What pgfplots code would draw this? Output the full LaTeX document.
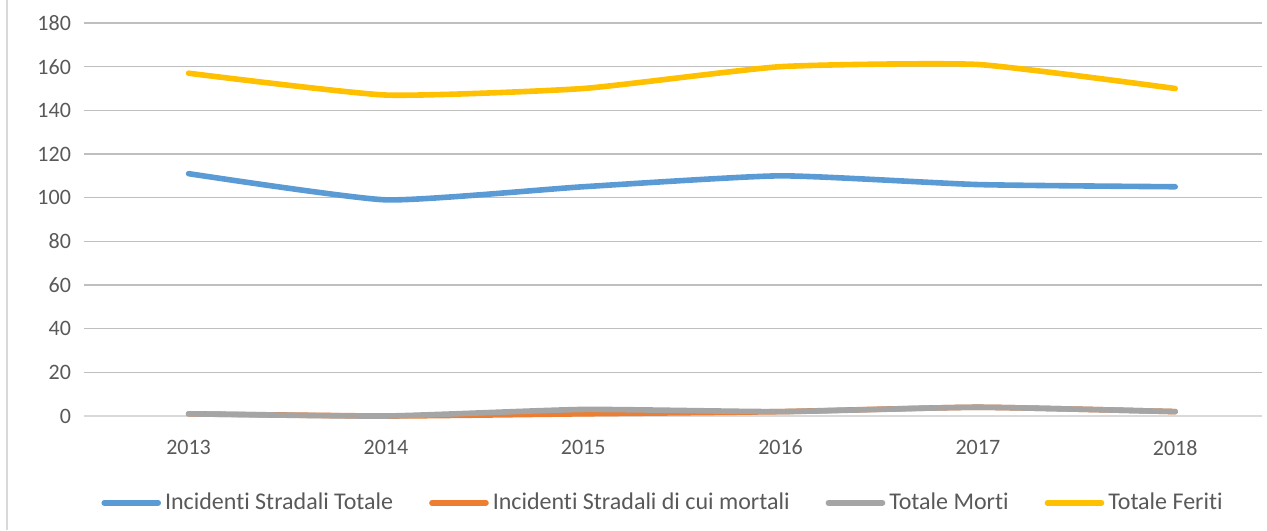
\documentclass[border=0pt]{standalone}
\usepackage{pgfplots}
\pgfplotsset{compat=1.18}
\usepackage{fontspec}
\setmainfont{Carlito}[Ligatures=NoCommon]
\definecolor{cblue}{HTML}{5B9BD5}
\definecolor{corange}{HTML}{ED7D31}
\definecolor{cgray}{HTML}{A5A5A5}
\definecolor{cyellow}{HTML}{FFC000}
\definecolor{grid}{HTML}{D9D9D9}
\definecolor{txt}{HTML}{595959}
\begin{document}
\begin{tikzpicture}
\useasboundingbox (0,0) rectangle (633.5pt,265pt);
\draw[grid, line width=0.75pt] (3.5pt,0) -- (3.5pt,265pt);
\begin{axis}[
  at={(42pt,57pt)}, anchor=south west,
  scale only axis, width=589pt, height=196.5pt,
  xmin=-0.53, xmax=5.44, ymin=0, ymax=180,
  xtick={0,1,2,3,4,5}, xticklabels={2013,2014,2015,2016,2017,2018},
  ytick={0,20,...,180},
  xmajorgrids=false, ymajorgrids=true,
  major grid style={grid, line width=0.75pt},
  axis line style={draw=none},
  tick style={draw=none},
  ticklabel style={font=\fontsize{11}{13}\selectfont, text=txt},
  /pgf/number format/assume math mode=true,
  xticklabel style={yshift=-8.5pt},
  yticklabel style={xshift=-3pt},
  legend columns=4,
  legend style={at={(0.4924,-0.221)}, anchor=center, draw=none, fill=none,
    font=\fontsize{12}{14}\selectfont, text=txt,
    /tikz/every even column/.append style={column sep=16pt}},
  legend cell align=left,
  legend image code/.code={\draw[#1, line cap=round] (0pt,0pt) -- (27pt,0pt);},
  clip=false,
]
\draw[grid, line width=0.75pt] (axis cs:-0.53,0) -- (axis cs:5.44,0);
\addplot[cblue, line width=2.8pt, smooth, tension=0.3, line cap=round] coordinates {(0,111) (1,99) (2,105) (3,110) (4,106) (5,105)};
\addlegendentry{Incidenti Stradali Totale}
\addplot[corange, line width=2.8pt, smooth, tension=0.3, line cap=round] coordinates {(0,1) (1,0) (2,1) (3,2) (4,4) (5,2)};
\addlegendentry{Incidenti Stradali di cui mortali}
\addplot[cgray, line width=2.8pt, smooth, tension=0.3, line cap=round] coordinates {(0,1) (1,0) (2,3) (3,2) (4,4) (5,2)};
\addlegendentry{Totale Morti}
\addplot[cyellow, line width=2.8pt, smooth, tension=0.3, line cap=round] coordinates {(0,157) (1,147) (2,150) (3,160) (4,161) (5,150)};
\addlegendentry{Totale Feriti}
\end{axis}
\end{tikzpicture}
\end{document}
